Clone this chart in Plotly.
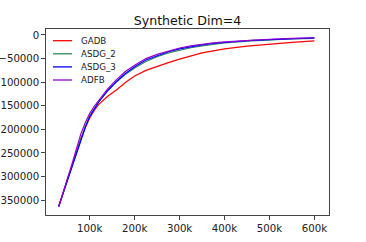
import plotly.graph_objects as go

x_k = [31, 40, 50, 60, 70, 80, 90, 100, 110, 120, 140, 160, 180, 200, 225, 250,
       275, 300, 325, 350, 375, 400, 450, 500, 550, 600]
steps = [v * 1000 for v in x_k]

gadb = [-364000, -335000, -307000, -279000, -248000, -220000, -196000, -176000,
        -160000, -147000, -130000, -116000, -100000, -87000, -75000, -66000,
        -58500, -51000, -44000, -38000, -33500, -29500, -23500, -19000, -15500, -12500]
asdg_2 = [-362000, -336000, -308000, -279000, -247000, -219000, -194000, -172000,
          -155000, -141000, -118000, -99000, -83000, -70000, -56000, -46000,
          -38000, -32000, -27000, -23000, -19800, -17000, -13200, -10500, -8500, -7000]
asdg_3 = [-363000, -337000, -310000, -282000, -250000, -222000, -196000, -173000,
          -156000, -142000, -118000, -98000, -81000, -67500, -53000, -43500,
          -35500, -29500, -24800, -21000, -18000, -15500, -12000, -9700, -7800, -6300]
adfb = [-364000, -334000, -305000, -275000, -240000, -210000, -186000, -166000,
        -151000, -138000, -114000, -94000, -77000, -64000, -50000, -41000,
        -33500, -27500, -23000, -19500, -16800, -14500, -11200, -9000, -7200, -5800]

series_names = ["GADB", "ASDG_2", "ASDG_3", "ADFB"]
series_colors = ["#ff0000", "#2e8b57", "#0000ff", "#9400d3"]

x_tick_vals = [100000, 200000, 300000, 400000, 500000, 600000]
x_tick_text = ["100k", "200k", "300k", "400k", "500k", "600k"]
y_tick_vals = [0, -50000, -100000, -150000, -200000, -250000, -300000, -350000]
y_tick_text = ["0", "\u221250000", "\u2212100000", "\u2212150000", "\u2212200000",
               "\u2212250000", "\u2212300000", "\u2212350000"]

W, H = 366, 242
ML, MR, MT, MB = 46, 37, 29, 27
PW, PH = W - ML - MR, H - MT - MB

fig = go.Figure()
for name, ys, col in zip(series_names, [gadb, asdg_2, asdg_3, adfb], series_colors):
    fig.add_trace(go.Scatter(x=steps, y=ys, mode="lines", name=name,
                             line=dict(color=col, width=1.2), showlegend=False))

font_family = "DejaVu Sans"
axis_common = dict(showline=True, linecolor="#444444", linewidth=1.3, mirror=True,
                   ticks="outside", ticklen=3.5, tickcolor="#444444", tickwidth=1,
                   showgrid=False, zeroline=False, automargin=False,
                   tickfont=dict(family=font_family, size=10.2, color="#222222"))

# manual legend (matplotlib-like short line samples)
shapes, annotations = [], []
for i, (name, col) in enumerate(zip(series_names, series_colors)):
    ypx = 40.7 + i * 13.1
    yp = 1 - (ypx - MT) / PH
    shapes.append(dict(type="line", xref="paper", yref="paper",
                       x0=(53 - ML) / PW, x1=(72 - ML) / PW, y0=yp, y1=yp,
                       line=dict(color=col, width=1.3)))
    annotations.append(dict(text=name, xref="paper", yref="paper",
                            x=(79 - ML) / PW, y=yp, xanchor="left", yanchor="middle",
                            showarrow=False,
                            font=dict(family=font_family, size=8.7, color="#222222")))

fig.update_layout(
    width=W, height=H,
    margin=dict(l=ML, r=MR, t=MT, b=MB),
    paper_bgcolor="white", plot_bgcolor="white",
    title=dict(text="Synthetic Dim=4", x=0.5, xref="paper", xanchor="center",
               y=1 - 20.7 / H, yref="container", yanchor="middle",
               font=dict(family=font_family, size=12.6, color="#111111")),
    xaxis=dict(range=[2600, 632600], tickvals=x_tick_vals, ticktext=x_tick_text,
               **axis_common),
    yaxis=dict(range=[-381500, 12700], tickvals=y_tick_vals, ticktext=y_tick_text,
               **axis_common),
    shapes=shapes, annotations=annotations,
    showlegend=False,
)

fig.write_html("out.html", config={"displayModeBar": False},
               post_script="document.body.style.margin='0';document.body.style.padding='0';")
